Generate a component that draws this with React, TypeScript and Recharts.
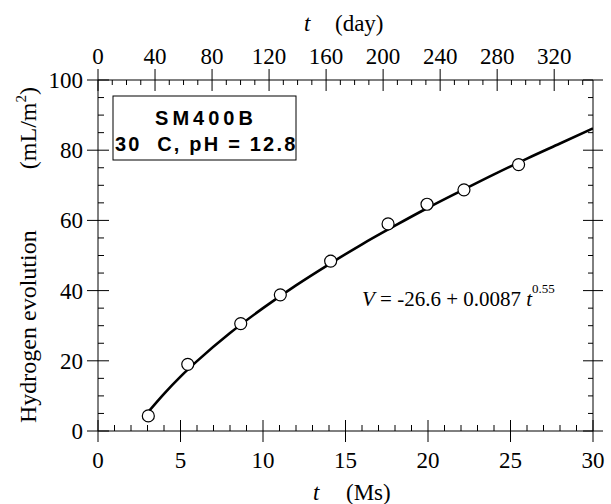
import { ComposedChart, Line, Scatter, XAxis, YAxis } from "recharts";

// bottom axis, Ms (major every 5)
const msTicks = [0, 1, 2, 3, 4, 5, 6, 7, 8, 9, 10, 11, 12, 13, 14, 15, 16, 17, 18, 19, 20, 21, 22, 23, 24, 25, 26, 27, 28, 29, 30];
// top axis, days (major every 40)
const dayTicks = [0, 10, 20, 30, 40, 50, 60, 70, 80, 90, 100, 110, 120, 130, 140, 150, 160, 170, 180, 190, 200, 210, 220, 230, 240, 250, 260, 270, 280, 290, 300, 310, 320, 330, 340];
// hydrogen axis (major every 20)
const vTicks = [0, 5, 10, 15, 20, 25, 30, 35, 40, 45, 50, 55, 60, 65, 70, 75, 80, 85, 90, 95, 100];

// measured points
const measured = [
  { t: 3.05, v: 4.3 },
  { t: 5.44, v: 19.0 },
  { t: 8.65, v: 30.6 },
  { t: 11.05, v: 38.8 },
  { t: 14.1, v: 48.4 },
  { t: 17.58, v: 59.0 },
  { t: 19.94, v: 64.6 },
  { t: 22.18, v: 68.7 },
  { t: 25.49, v: 75.9 },
];

// fitted curve
const fitCurve = [
  { t: 3, v: 5.2 },
  { t: 4, v: 10.6 },
  { t: 5, v: 15.5 },
  { t: 6, v: 19.9 },
  { t: 8, v: 27.9 },
  { t: 10, v: 35.0 },
  { t: 12, v: 41.5 },
  { t: 14, v: 47.5 },
  { t: 16, v: 53.2 },
  { t: 18, v: 58.5 },
  { t: 20, v: 63.6 },
  { t: 22, v: 68.4 },
  { t: 24, v: 73.1 },
  { t: 26, v: 77.6 },
  { t: 28, v: 81.9 },
  { t: 30, v: 86.2 },
];

const MAX_MS = 30;
const DAY_IN_MS = 86400 / 1e6;

const SERIF = '"Liberation Serif", "Times New Roman", serif';
const SANS = '"Liberation Sans", Arial, sans-serif';

const BottomTick = ({ x, y, payload }: any) => {
  const v = payload.value;
  const major = v % 5 === 0;
  return (
    <g>
      <line x1={x} x2={x} y1={major ? y - 11 : y - 6} y2={major ? y + 11 : y} stroke="#000" />
      {major && (
        <text x={x} y={y + 37} textAnchor="middle" fontFamily={SERIF} fontSize={23} fill="#000">
          {v}
        </text>
      )}
    </g>
  );
};

// top axis is on the same Ms scale, labelled in days
const TopTick = ({ x, y, payload }: any) => {
  const d = Math.round(payload.value / DAY_IN_MS);
  const major = d % 40 === 0;
  return (
    <g>
      <line x1={x} x2={x} y1={major ? y - 11 : y} y2={major ? y + 11 : y + 5} stroke="#000" />
      {major && (
        <text x={x} y={y - 16} textAnchor="middle" fontFamily={SERIF} fontSize={23} fill="#000">
          {d}
        </text>
      )}
    </g>
  );
};

const LeftTick = ({ x, y, payload }: any) => {
  const v = payload.value;
  const major = v % 20 === 0;
  return (
    <g>
      <line x1={major ? x - 11 : x} x2={major ? x + 11 : x + 6} y1={y} y2={y} stroke="#000" />
      {major && (
        <text x={x - 15} y={y + 8} textAnchor="end" fontFamily={SERIF} fontSize={23} fill="#000">
          {v}
        </text>
      )}
    </g>
  );
};

const RightTick = ({ x, y, payload }: any) => {
  const v = payload.value;
  const major = v % 20 === 0;
  return <line x1={major ? x - 10 : x - 5} x2={major ? x + 10 : x} y1={y} y2={y} stroke="#000" />;
};

export default function App() {
  return (
    <div style={{ position: "absolute", left: 0, top: 0, width: 611, height: 504, background: "#fff" }}>
      <ComposedChart width={611} height={504} margin={{ top: 40, right: 8, bottom: 33, left: 38 }}>
        <XAxis
          xAxisId="ms"
          type="number"
          dataKey="t"
          domain={[0, MAX_MS]}
          allowDataOverflow
          ticks={msTicks}
          interval={0}
          height={40}
          tickSize={0}
          tickMargin={0}
          tickLine={false}
          axisLine={{ stroke: "#000" }}
          tick={BottomTick}
        />
        <XAxis
          xAxisId="day"
          orientation="top"
          type="number"
          dataKey="t"
          domain={[0, MAX_MS]}
          allowDataOverflow
          ticks={dayTicks.map((d) => d * DAY_IN_MS)}
          interval={0}
          height={40}
          tickSize={0}
          tickMargin={0}
          tickLine={false}
          axisLine={{ stroke: "#000" }}
          tick={TopTick}
        />
        <YAxis
          yAxisId="v"
          type="number"
          dataKey="v"
          domain={[0, 100]}
          allowDataOverflow
          ticks={vTicks}
          interval={0}
          width={60}
          tickSize={0}
          tickMargin={0}
          tickLine={false}
          axisLine={{ stroke: "#000" }}
          tick={LeftTick}
        />
        <YAxis
          yAxisId="right"
          orientation="right"
          type="number"
          domain={[0, 100]}
          allowDataOverflow
          ticks={vTicks}
          interval={0}
          width={10}
          tickSize={0}
          tickMargin={0}
          tickLine={false}
          axisLine={{ stroke: "#000" }}
          tick={RightTick}
        />
        <Line
          xAxisId="ms"
          yAxisId="v"
          data={fitCurve}
          dataKey="v"
          type="monotone"
          stroke="#000"
          strokeWidth={2.6}
          dot={false}
          isAnimationActive={false}
        />
        <Scatter
          xAxisId="ms"
          yAxisId="v"
          data={measured}
          dataKey="v"
          isAnimationActive={false}
          shape={(p: any) => <circle cx={p.cx} cy={p.cy} r={6} fill="#fff" stroke="#000" strokeWidth={1.2} />}
        />
      </ComposedChart>

      <svg width={611} height={504} style={{ position: "absolute", left: 0, top: 0, pointerEvents: "none" }}>
        {/* axis titles */}
        <text x={304} y={31} fontFamily={SERIF} fontSize={23} fontStyle="italic">t</text>
        <text x={335} y={31} fontFamily={SERIF} fontSize={23}>(day)</text>
        <text x={313} y={500} fontFamily={SERIF} fontSize={23} fontStyle="italic">t</text>
        <text x={346} y={500} fontFamily={SERIF} fontSize={23}>(Ms)</text>
        <text transform="translate(36, 423) rotate(-90)" fontFamily={SERIF} fontSize={24}>
          Hydrogen evolution
        </text>
        <text transform="translate(36, 87) rotate(-90)" textAnchor="end" fontFamily={SERIF} fontSize={24}>
          (mL/m<tspan dy={-10} fontSize={15}>2</tspan>
          <tspan dy={10}>)</tspan>
        </text>

        {/* legend box */}
        <rect x={113} y={96} width={183} height={64} fill="#fff" stroke="#000" strokeWidth={1} />
        <text x={206} y={125} textAnchor="middle" fontFamily={SANS} fontWeight="bold" fontSize={20} letterSpacing={4}>
          SM400B
        </text>
        <text x={115} y={151} fontFamily={SANS} fontWeight="bold" fontSize={20} letterSpacing={2.2} style={{ whiteSpace: "pre" }}>
          30  C, pH = 12.8
        </text>

        {/* fit equation */}
        <text x={362} y={306} fontFamily={SERIF} fontSize={21}>
          <tspan fontStyle="italic">V</tspan>
          <tspan> = -26.6 + 0.0087 </tspan>
          <tspan fontStyle="italic">t</tspan>
          <tspan dy={-13} fontSize={13}>0.55</tspan>
        </text>
      </svg>
    </div>
  );
}
